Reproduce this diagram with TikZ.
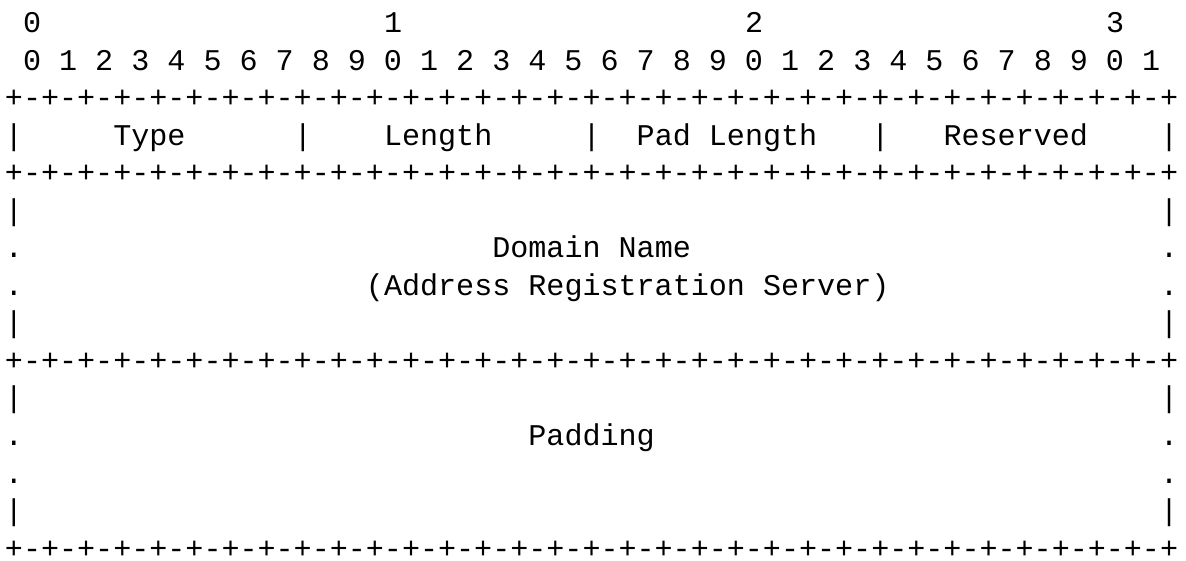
\documentclass[tikz,border=0pt]{standalone}
\usepackage{fontspec}
\newfontfamily\pktmono{Liberation Mono}
\tikzset{
  pkt/.style={inner sep=0pt, outer sep=0pt, anchor=base west,
              font=\pktmono\fontsize{30.08}{37.5}\selectfont, text=black},
  pktrule/.style={pkt, text depth=0pt}
}
% \mkseg[style]{name}{row}{column}{text}
\newcommand\mkseg[5][pkt]{\node[#1] (#2) at ({4.975+#4*18.05},{560-(33.0+(#3-1)*37.5)}) {#5};}
\newcommand\mkrule[2]{\mkseg[pktrule]{#1}{#2}{0}{+-+-+-+-+-+-+-+-+-+-+-+-+-+-+-+-+-+-+-+-+-+-+-+-+-+-+-+-+-+-+-+-+}}
\begin{document}
\begin{tikzpicture}[x=1pt,y=1pt]
\useasboundingbox (0,0) rectangle (1186,560);
% header
\mkseg{h0}{1}{1}{0}
\mkseg{h1}{1}{21}{1}
\mkseg{h2}{1}{41}{2}
\mkseg{h3}{1}{61}{3}
\mkseg{bits}{2}{1}{0 1 2 3 4 5 6 7 8 9 0 1 2 3 4 5 6 7 8 9 0 1 2 3 4 5 6 7 8 9 0 1}
\mkrule{r3}{3}
% first word
\mkseg{b4a}{4}{0}{|}
\mkseg{type}{4}{6}{Type}
\mkseg{b4b}{4}{16}{|}
\mkseg{length}{4}{21}{Length}
\mkseg{b4c}{4}{32}{|}
\mkseg{padlen}{4}{35}{Pad Length}
\mkseg{b4d}{4}{48}{|}
\mkseg{reserved}{4}{52}{Reserved}
\mkseg{b4e}{4}{64}{|}
\mkrule{r5}{5}
% domain name block
\mkseg{b6a}{6}{0}{|}
\mkseg{b6b}{6}{64}{|}
\mkseg{d7a}{7}{0}{.}
\mkseg{domain}{7}{27}{Domain Name}
\mkseg{d7b}{7}{64}{.}
\mkseg{d8a}{8}{0}{.}
\mkseg{ars}{8}{20}{(Address Registration Server)}
\mkseg{d8b}{8}{64}{.}
\mkseg{b9a}{9}{0}{|}
\mkseg{b9b}{9}{64}{|}
\mkrule{r10}{10}
% padding block
\mkseg{b11a}{11}{0}{|}
\mkseg{b11b}{11}{64}{|}
\mkseg{d12a}{12}{0}{.}
\mkseg{padding}{12}{29}{Padding}
\mkseg{d12b}{12}{64}{.}
\mkseg{d13a}{13}{0}{.}
\mkseg{d13b}{13}{64}{.}
\mkseg{b14a}{14}{0}{|}
\mkseg{b14b}{14}{64}{|}
\mkrule{r15}{15}
\end{tikzpicture}
\end{document}
